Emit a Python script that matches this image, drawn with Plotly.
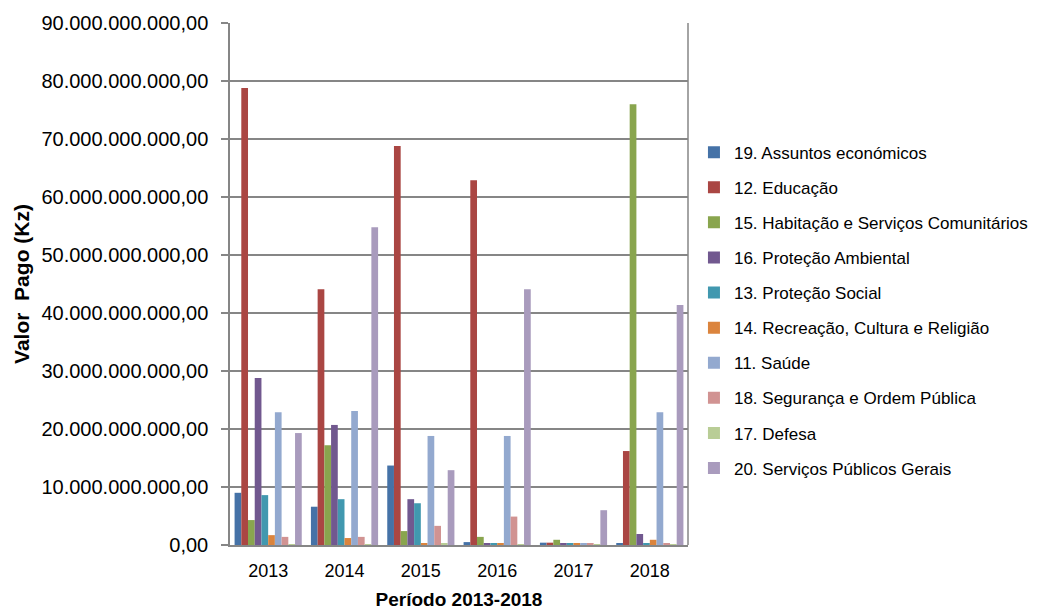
import plotly.graph_objects as go

years = ["2013", "2014", "2015", "2016", "2017", "2018"]
series_names = [
    "19. Assuntos económicos",
    "12. Educação",
    "15. Habitação e Serviços Comunitários",
    "16. Proteção Ambiental",
    "13. Proteção Social",
    "14. Recreação, Cultura e Religião",
    "11. Saúde",
    "18. Segurança e Ordem Pública",
    "17. Defesa",
    "20. Serviços Públicos Gerais",
]
assuntos_economicos = [9.0e9, 6.6e9, 13.7e9, 0.5e9, 0.4e9, 0.3e9]
educacao = [78.8e9, 44.1e9, 68.8e9, 62.9e9, 0.4e9, 16.2e9]
habitacao = [4.3e9, 17.2e9, 2.4e9, 1.4e9, 0.9e9, 76.0e9]
protecao_ambiental = [28.8e9, 20.7e9, 7.9e9, 0.3e9, 0.3e9, 1.9e9]
protecao_social = [8.6e9, 7.9e9, 7.2e9, 0.3e9, 0.3e9, 0.3e9]
recreacao = [1.7e9, 1.2e9, 0.3e9, 0.3e9, 0.3e9, 0.9e9]
saude = [22.9e9, 23.1e9, 18.8e9, 18.8e9, 0.3e9, 22.9e9]
seguranca = [1.4e9, 1.4e9, 3.3e9, 4.9e9, 0.3e9, 0.3e9]
defesa = [0.05e9, 0.05e9, 0.2e9, 0.1e9, 0.1e9, 0.05e9]
servicos_publicos = [19.3e9, 54.8e9, 12.9e9, 44.1e9, 6.0e9, 41.4e9]

all_values = [assuntos_economicos, educacao, habitacao, protecao_ambiental,
              protecao_social, recreacao, saude, seguranca, defesa, servicos_publicos]
colors = ["#4572A7", "#AA4643", "#89A54E", "#71588F", "#4198AF",
          "#DB843D", "#93A9CF", "#D19392", "#B9CD96", "#A99BBD"]

y_tickvals = [0, 10e9, 20e9, 30e9, 40e9, 50e9, 60e9, 70e9, 80e9, 90e9]
y_ticktext = ["0,00", "10.000.000.000,00", "20.000.000.000,00", "30.000.000.000,00",
              "40.000.000.000,00", "50.000.000.000,00", "60.000.000.000,00",
              "70.000.000.000,00", "80.000.000.000,00", "90.000.000.000,00"]

fig = go.Figure()
for i, (name, vals, col) in enumerate(zip(series_names, all_values, colors)):
    fig.add_trace(go.Bar(
        x=years, y=vals, name=name, marker_color=col,
        marker_line_width=0, legendgroup="g%d" % i,
    ))

fig.update_layout(
    width=1058, height=616,
    barmode="group", bargap=0.12, bargroupgap=0,
    paper_bgcolor="white", plot_bgcolor="white",
    margin=dict(l=222, r=378, t=15, b=79, autoexpand=False),
    font=dict(family="Liberation Sans, Arial, sans-serif", color="#000000"),
    showlegend=True,
    legend=dict(
        x=1.013, xanchor="left", xref="paper", y=0.45, yanchor="middle",
        font=dict(size=17, family="Liberation Sans, Arial"),
        tracegroupgap=10, itemwidth=30, bgcolor="rgba(0,0,0,0)",
        traceorder="grouped",
    ),
    xaxis=dict(
        showgrid=False, showline=True, linecolor="#868686", linewidth=1.5,
        tickfont=dict(size=18), ticks="", ticklabelstandoff=9, automargin=False,
        title=dict(text="<b>Período 2013-2018</b>",
                   font=dict(size=19, family="Liberation Sans, Arial"),
                   standoff=12),
    ),
    yaxis=dict(
        range=[0, 90e9], tickvals=y_tickvals, ticktext=y_ticktext,
        showgrid=True, gridcolor="#868686", gridwidth=1.5,
        showline=True, linecolor="#868686", linewidth=1.5, mirror=False,
        tickfont=dict(size=20), ticks="outside", ticklen=7, tickcolor="#868686",
        tickwidth=1.5, ticklabelstandoff=9, automargin=False,
        title=dict(text="<b>Valor  Pago (Kz)</b>", font=dict(size=21), standoff=6),
        zeroline=False,
    ),
)
fig.add_shape(type="line", xref="paper", yref="paper", x0=1, x1=1, y0=0, y1=1,
              line=dict(color="#868686", width=1.5))
fig.write_html("out.html")
